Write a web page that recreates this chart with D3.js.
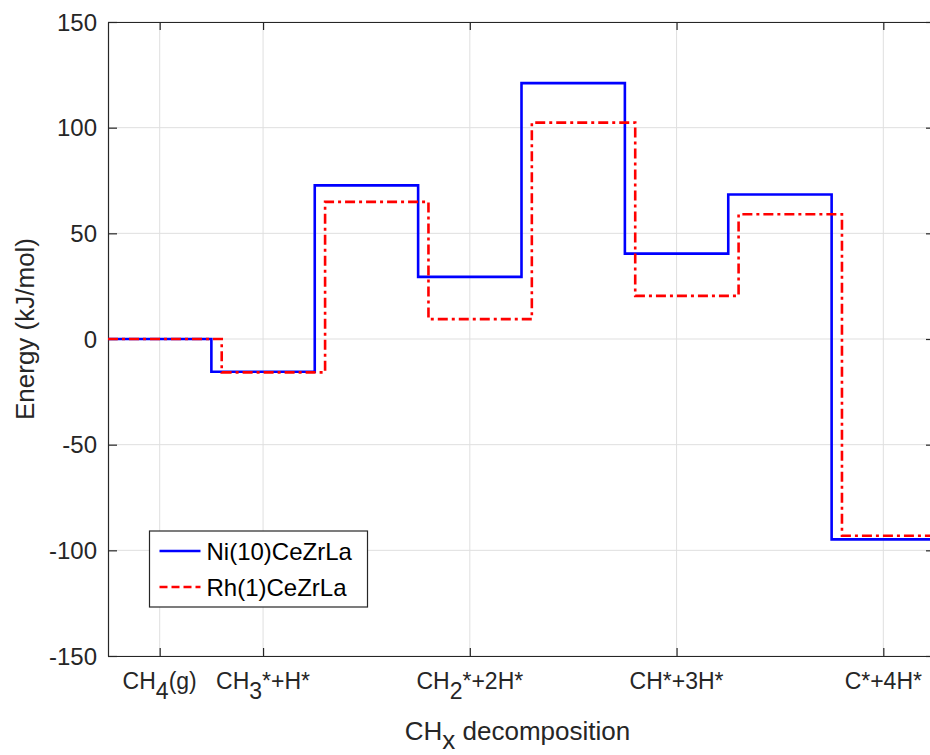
<!DOCTYPE html>
<html>
<head>
<meta charset="utf-8">
<script src="https://cdn.jsdelivr.net/npm/d3@7"></script>
<style>
	body { margin: 0; background: #fff; }
	svg { display: block; font-family: "Liberation Sans", Arial, sans-serif; }
	.grid line { stroke: #dfdfdf; stroke-width: 1; }
	.axis text { fill: #262626; }
	.step { fill: none; stroke-width: 2.6; }
</style>
</head>
<body>
<div id="chart"></div>
<script>
// tick positions and labels (underscore = subscript)
var stageTicks = [0.5, 1, 2, 3, 4];
var stageLabels = ["CH_4(g)", "CH_3*+H*", "CH_2*+2H*", "CH*+3H*", "C*+4H*"];
var energyTicks = [-150, -100, -50, 0, 50, 100, 150];

// x where each level begins (first level starts at left axis)
var niStart = [0.25, 0.75, 1.25, 1.75, 2.25, 2.75, 3.25, 3.75];
var niEnergy = [0, -15.5, 72.7, 29.4, 121.1, 40.4, 68.4, -94.8];
var rhStart = [0.25, 0.8, 1.3, 1.8, 2.3, 2.8, 3.3, 3.8];
var rhEnergy = [0, -15.8, 64.9, 9.4, 102.4, 20.4, 59.0, -93.1];

var seriesNames = ["Ni(10)CeZrLa", "Rh(1)CeZrLa"];
var seriesColors = ["#0000ff", "#ff0000"];
var seriesDash = [null, "10,4,3,4"];

var width = 930,
	height = 755;

var margin = { top: 22, left: 108, right: -5, bottom: 99 };
var chart_width = width - margin.left - margin.right;
var chart_height = height - margin.top - margin.bottom;

var svg = d3.select("#chart").append("svg")
	.attr("width", width)
	.attr("height", height);

var xScale = d3.scaleLinear().domain([0.25, 4.25]).range([0, chart_width]);
var yScale = d3.scaleLinear().domain([-150, 150]).range([chart_height, 0]);

var g = svg.append("g").attr("transform", "translate(" + margin.left + "," + margin.top + ")");

svg.append("defs").append("clipPath").attr("id", "plotclip")
	.append("rect").attr("width", chart_width).attr("height", chart_height);

// grid
var grid = g.append("g").attr("class", "grid");
grid.selectAll(".gx").data(stageTicks).enter().append("line")
	.attr("x1", d => xScale(d)).attr("x2", d => xScale(d))
	.attr("y1", 0).attr("y2", chart_height);
grid.selectAll(".gy").data(energyTicks).enter().append("line")
	.attr("y1", d => yScale(d)).attr("y2", d => yScale(d))
	.attr("x1", 0).attr("x2", chart_width);

// box + inward ticks on all four sides
function styleAxis(sel) {
	sel.select(".domain").attr("stroke", "#262626").attr("stroke-width", 1.2);
	sel.selectAll(".tick line").attr("stroke", "#262626").attr("stroke-width", 1.2);
}

var xAxis = d3.axisBottom(xScale).tickValues(stageTicks).tickSizeInner(-8).tickSizeOuter(0).tickFormat("");
var xAxisTop = d3.axisTop(xScale).tickValues(stageTicks).tickSizeInner(-8).tickSizeOuter(0).tickFormat("");
var yAxis = d3.axisLeft(yScale).tickValues(energyTicks).tickSizeInner(-9).tickSizeOuter(0).tickFormat("");
var yAxisRight = d3.axisRight(yScale).tickValues(energyTicks).tickSizeInner(-9).tickSizeOuter(0).tickFormat("");

g.append("g").attr("transform", "translate(0," + chart_height + ")").call(xAxis).call(styleAxis);
g.append("g").call(xAxisTop).call(styleAxis);
g.append("g").call(yAxis).call(styleAxis);
g.append("g").attr("transform", "translate(" + chart_width + ",0)").call(yAxisRight).call(styleAxis);

// y tick labels
g.append("g").attr("class", "axis").selectAll("text").data(energyTicks).enter().append("text")
	.attr("x", -11)
	.attr("y", d => yScale(d))
	.attr("dy", "0.36em")
	.attr("text-anchor", "end")
	.style("font-size", "24px")
	.text(d => d);

// x tick labels, with tex-like subscripts
var xl = g.append("g").attr("class", "axis").selectAll("text").data(stageTicks).enter().append("text")
	.attr("x", d => xScale(d))
	.attr("y", chart_height + 33)
	.attr("text-anchor", "middle")
	.style("font-size", "23px");

xl.each(function(d, i) {
	var t = d3.select(this);
	var parts = stageLabels[i].split("_");
	t.append("tspan").text(parts[0]);
	if (parts.length > 1) {
		t.append("tspan").attr("dy", 10).text(parts[1][0]);
		t.append("tspan").attr("dy", -10).text(parts[1].slice(1));
	}
});

// step lines
var line = d3.line()
	.x(d => xScale(d[0]))
	.y(d => yScale(d[1]))
	.curve(d3.curveStepAfter);

function stepPoints(starts, energy) {
	var pts = starts.map((s, i) => [s, energy[i]]);
	pts.push([4.25, energy[energy.length - 1]]);
	return pts;
}

var series = [stepPoints(niStart, niEnergy), stepPoints(rhStart, rhEnergy)];

g.append("g").attr("clip-path", "url(#plotclip)")
	.selectAll(".step").data(series).enter().append("path")
	.attr("class", "step")
	.attr("d", d => line(d))
	.attr("stroke", (d, i) => seriesColors[i])
	.attr("stroke-dasharray", (d, i) => seriesDash[i]);

// legend
var legend = svg.append("g").attr("transform", "translate(149.5,531)");
legend.append("rect")
	.attr("width", 218).attr("height", 76)
	.attr("fill", "#fff").attr("stroke", "#262626").attr("stroke-width", 1.2);

var items = legend.selectAll(".item").data(seriesNames).enter().append("g")
	.attr("transform", (d, i) => "translate(0," + (20 + i * 36) + ")");
items.append("line")
	.attr("x1", 10).attr("x2", 51)
	.attr("stroke", (d, i) => seriesColors[i])
	.attr("stroke-width", 2.6)
	.attr("stroke-dasharray", (d, i) => seriesDash[i] ? "8,4" : null);
items.append("text")
	.attr("x", 57).attr("y", 0).attr("dy", "0.36em")
	.style("font-size", "24px").attr("fill", "#000")
	.text(d => d);

// axis titles
var xt = svg.append("text")
	.attr("x", margin.left + (935 - margin.left) / 2 - 4)
	.attr("y", 740)
	.attr("text-anchor", "middle")
	.attr("fill", "#262626")
	.style("font-size", "26px");
xt.append("tspan").text("CH");
xt.append("tspan").attr("dy", 9).text("x");
xt.append("tspan").attr("dy", -9).text(" decomposition");

svg.append("text")
	.attr("transform", "translate(34,329) rotate(-90)")
	.attr("text-anchor", "middle")
	.attr("fill", "#262626")
	.style("font-size", "26px")
	.text("Energy (kJ/mol)");
</script>
</body>
</html>
